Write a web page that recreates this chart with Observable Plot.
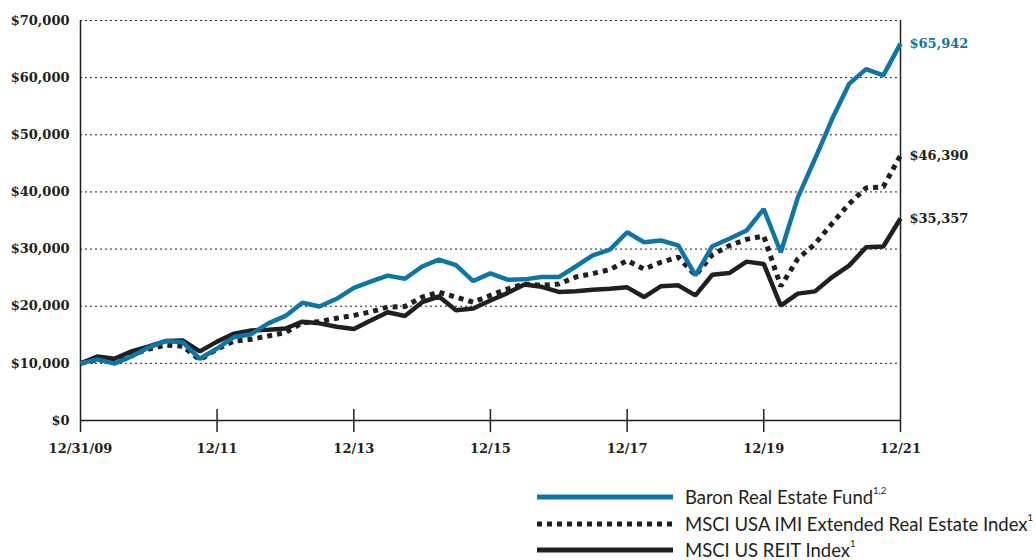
<!DOCTYPE html>
<html>
<head>
<meta charset="utf-8">
<script src="https://cdn.jsdelivr.net/npm/d3@7"></script>
<script src="https://cdn.jsdelivr.net/npm/@observablehq/plot@0.6"></script>
<style>
  body { margin: 0; background: #fff; }
  #wrap { position: relative; width: 1036px; height: 560px; overflow: hidden; }
  #legend { position: absolute; left: 537px; top: 484px; font-family: Lato, sans-serif; font-size: 18.5px; color: #231f20; }
  .row { display: flex; align-items: center; height: 26.5px; white-space: nowrap; }
  .row svg { width: 136px; height: 8px; margin-right: 12px; flex: none; }
  .row sup { font-size: 9.5px; vertical-align: top; position: relative; top: -1px; }
</style>
</head>
<body>
<div id="wrap">
  <div id="chart"></div>
  <div id="legend"></div>
</div>
<script>
// Growth of $10,000, quarterly values from 12/31/09 through 12/31/21
const seriesNames = ["Baron Real Estate Fund", "MSCI USA IMI Extended Real Estate Index", "MSCI US REIT Index"];
const seriesNotes = ["1,2", "1", "1"];
const seriesColors = ["#0d76a6", "#231f20", "#231f20"];

const baronFund = [
  10000, 10700, 9950, 11200, 12800, 13900, 13700, 10800, 12600, 14600,
  15100, 17000, 18300, 20600, 19950, 21300, 23200, 24300, 25350, 24800,
  26950, 28150, 27200, 24400, 25750, 24650, 24700, 25100, 25100, 26950,
  28900, 29900, 32950, 31200, 31500, 30650, 25400, 30500, 31800, 33250,
  37000, 29450, 39000, 45800, 52800, 58900, 61500, 60400, 65942
];
const msciExtended = [
  10000, 10600, 10300, 11500, 12500, 13200, 13000, 10600, 12500, 13900,
  14200, 14800, 15400, 17100, 17300, 17900, 18400, 19000, 19850, 19950,
  21600, 22450, 21600, 20700, 21900, 23000, 23900, 23650, 23900, 25100,
  25700, 26400, 28000, 26500, 27700, 28600, 25400, 29000, 30600, 31700,
  32300, 23500, 28300, 30900, 34500, 37900, 40700, 40900, 46390
];
const msciReit = [
  10000, 11200, 10800, 12100, 12950, 13900, 14000, 12100, 13800, 15200,
  15750, 15900, 16100, 17300, 17000, 16400, 16000, 17500, 18950, 18300,
  20700, 21700, 19300, 19600, 21000, 22300, 23800, 23400, 22500, 22600,
  22900, 23050, 23300, 21600, 23500, 23650, 21900, 25500, 25800, 27800,
  27400, 20100, 22200, 22600, 25100, 27100, 30300, 30450, 35357
];

const yTicks = [0, 10000, 20000, 30000, 40000, 50000, 60000, 70000];
const xTickYears = [2009, 2011, 2013, 2015, 2017, 2019, 2021];
const xTickLabels = ["12/31/09", "12/11", "12/13", "12/15", "12/17", "12/19", "12/21"];

// quarter-end dates: 12/31/09, 3/31/10, 6/30/10, ...
const quarterEnd = (i) => d3.utcDay.offset(d3.utcMonth.offset(new Date(Date.UTC(2010, 0, 1)), 3 * i), -1);
const dates = baronFund.map((_, i) => quarterEnd(i));

const allSeries = [baronFund, msciExtended, msciReit];
const rows = allSeries.map((vals, s) => vals.map((v, i) => ({series: seriesNames[s], date: dates[i], value: v})));

const xTicks = xTickYears.map((yr, i) => ({date: new Date(Date.UTC(yr, 11, 31)), label: xTickLabels[i]}));
const startDate = xTicks[0].date;
const endDate = xTicks[xTicks.length - 1].date;

const money = (v) => "$" + d3.format(",")(v);
const ink = "#231f20";

const ends = allSeries.map((vals, s) => ({date: dates[dates.length - 1], value: vals[vals.length - 1], color: s === 0 ? seriesColors[0] : ink}));

const chart = Plot.plot({
  width: 1036,
  height: 470,
  marginLeft: 80,
  marginRight: 136,
  marginTop: 20,
  marginBottom: 50,
  x: {type: "utc", domain: [startDate, endDate], axis: null},
  y: {domain: [0, 70000]},
  style: {fontFamily: "'DejaVu Serif', serif", fontSize: "13px", fontWeight: "bold", color: ink, background: "#fff"},
  marks: [
    Plot.ruleY(yTicks.filter((d) => d > 0), {stroke: ink, strokeWidth: 1, strokeDasharray: "2,3"}),
    Plot.axisY({ticks: yTicks, tickSize: 0, tickPadding: 11, tickFormat: money, label: null}),
    Plot.ruleY([0], {stroke: ink, strokeWidth: 1.5}),
    Plot.ruleX([startDate, endDate], {stroke: ink, strokeWidth: 1.5, insetBottom: -12}),
    Plot.ruleX(xTicks.slice(1, -1), {x: "date", y1: 0, y2: 0, stroke: ink, strokeWidth: 1.5, insetTop: -11, insetBottom: -12}),
    Plot.text(xTicks, {x: "date", text: "label", frameAnchor: "bottom", dy: 32}),
    Plot.line(rows[1], {x: "date", y: "value", stroke: seriesColors[1], strokeWidth: 5, strokeDasharray: "5,5", strokeLinecap: "butt", strokeLinejoin: "miter"}),
    Plot.line(rows[2], {x: "date", y: "value", stroke: seriesColors[2], strokeWidth: 4.5, strokeLinejoin: "miter", strokeLinecap: "butt"}),
    Plot.line(rows[0], {x: "date", y: "value", stroke: seriesColors[0], strokeWidth: 4.5, strokeLinejoin: "miter", strokeLinecap: "butt"}),
    Plot.text(ends, {x: "date", y: "value", text: (d) => money(d.value), fill: "color", dx: 9, textAnchor: "start"})
  ]
});
document.getElementById("chart").appendChild(chart);

// legend below the chart
const legend = d3.select("#legend");
seriesNames.forEach((name, s) => {
  const row = legend.append("div").attr("class", "row");
  const svg = row.append("svg");
  svg.append("line")
    .attr("x1", 0).attr("x2", 136).attr("y1", 4).attr("y2", 4)
    .attr("stroke", seriesColors[s])
    .attr("stroke-width", 5)
    .attr("stroke-dasharray", s === 1 ? "5,5" : null);
  const label = row.append("span").text(name);
  label.append("sup").text(seriesNotes[s]);
});
</script>
</body>
</html>
